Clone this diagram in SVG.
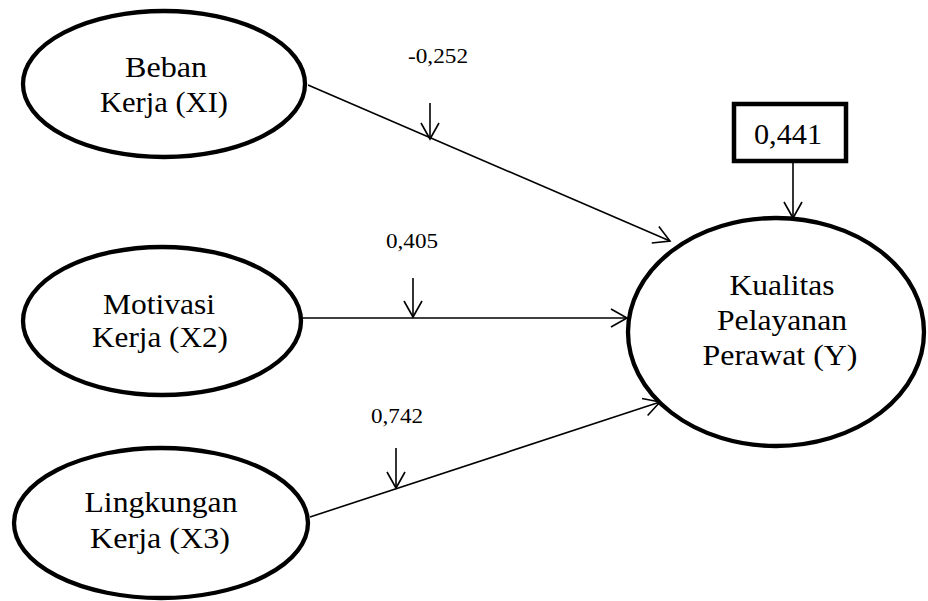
<svg xmlns="http://www.w3.org/2000/svg" width="928" height="601" viewBox="0 0 928 601">
<defs>
<style>
.node{fill:#fff;stroke:#000;stroke-width:4.3}
text{font-family:'Liberation Serif','Times New Roman',serif;fill:#000;text-anchor:middle}
.lbl{font-size:30px}
.coef{font-size:22px}
.edge{fill:none;stroke:#000;stroke-width:1.6}
</style>
<marker id="arr" markerUnits="userSpaceOnUse" markerWidth="30" markerHeight="30" viewBox="-20 -15 30 30" refX="0" refY="0" orient="auto">
<path d="M-16,-9 L0,0 L-16,9" fill="none" stroke="#000" stroke-width="1.6"/>
</marker>
</defs>
<g id="connectors">
<line class="edge" x1="308" y1="85" x2="670" y2="241" marker-end="url(#arr)"/>
<line class="edge" x1="300" y1="318" x2="627" y2="318" marker-end="url(#arr)"/>
<line class="edge" x1="310" y1="517" x2="660" y2="402" marker-end="url(#arr)"/>
<line class="edge" x1="793" y1="162" x2="793" y2="218" marker-end="url(#arr)"/>
<line class="edge" x1="430" y1="103" x2="430" y2="139" marker-end="url(#arr)"/>
<line class="edge" x1="413" y1="278" x2="413" y2="317" marker-end="url(#arr)"/>
<line class="edge" x1="396" y1="448" x2="396" y2="488" marker-end="url(#arr)"/>
<text class="coef" x="438" y="63" textLength="60" lengthAdjust="spacingAndGlyphs">-0,252</text>
<text class="coef" x="412" y="248" textLength="52" lengthAdjust="spacingAndGlyphs">0,405</text>
<text class="coef" x="397" y="423" textLength="52" lengthAdjust="spacingAndGlyphs">0,742</text>
</g>
<g id="beban">
<ellipse class="node" cx="164" cy="84" rx="141" ry="73"/>
<text class="lbl" x="166" y="77" textLength="82" lengthAdjust="spacingAndGlyphs">Beban</text>
<text class="lbl" x="164" y="112" textLength="128" lengthAdjust="spacingAndGlyphs">Kerja (XI)</text>
</g>
<g id="motivasi">
<ellipse class="node" cx="162" cy="321" rx="139" ry="74"/>
<text class="lbl" x="159" y="314" textLength="112" lengthAdjust="spacingAndGlyphs">Motivasi</text>
<text class="lbl" x="160" y="347" textLength="136" lengthAdjust="spacingAndGlyphs">Kerja (X2)</text>
</g>
<g id="lingkungan">
<ellipse class="node" cx="161" cy="523" rx="147" ry="75"/>
<text class="lbl" x="161" y="512" textLength="153" lengthAdjust="spacingAndGlyphs">Lingkungan</text>
<text class="lbl" x="160" y="548" textLength="140" lengthAdjust="spacingAndGlyphs">Kerja (X3)</text>
</g>
<g id="kualitas">
<ellipse class="node" cx="776" cy="332" rx="148" ry="114"/>
<text class="lbl" x="782" y="295" textLength="105" lengthAdjust="spacingAndGlyphs">Kualitas</text>
<text class="lbl" x="782" y="330" textLength="130" lengthAdjust="spacingAndGlyphs">Pelayanan</text>
<text class="lbl" x="780" y="365" textLength="155" lengthAdjust="spacingAndGlyphs">Perawat (Y)</text>
</g>
<g id="r2">
<rect x="734" y="104" width="112" height="57" fill="#fff" stroke="#000" stroke-width="4.5"/>
<text x="788" y="144" style="font-size:30px" textLength="68" lengthAdjust="spacingAndGlyphs">0,441</text>
</g>
</svg>
